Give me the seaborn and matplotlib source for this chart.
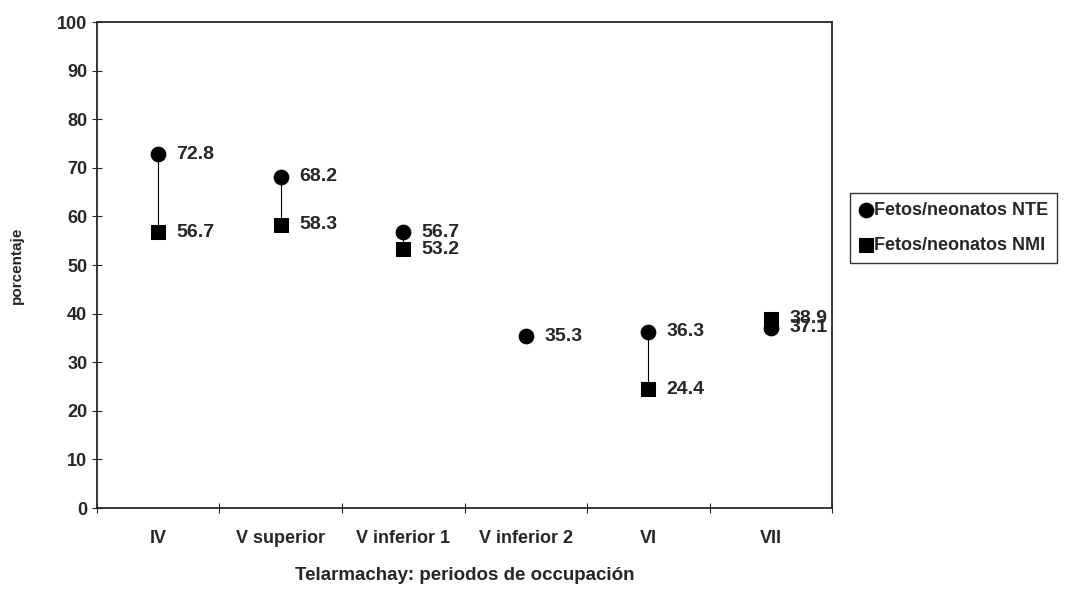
import numpy as np
import pandas as pd
import matplotlib
matplotlib.use("Agg")
import matplotlib.pyplot as plt
import seaborn as sns

# valores
periodos = ["IV", "V superior", "V inferior 1", "V inferior 2", "VI", "VII"]
nte = [72.8, 68.2, 56.7, 35.3, 36.3, 37.1]
nmi = [56.7, 58.3, 53.2, np.nan, 24.4, 38.9]

sns.set_style("ticks")
plt.rcParams['font.family'] = ['Liberation Sans', 'DejaVu Sans']
plt.rcParams['font.weight'] = 'bold'

df = pd.DataFrame({"periodo": periodos, "NTE": nte, "NMI": nmi})
df["x"] = np.arange(len(periodos)) + 0.5

fig = plt.figure(figsize=(10.8, 5.89), dpi=100)
ax = fig.add_axes([0.0898, 0.1375, 0.6806, 0.8251])

# lineas alto-bajo entre las dos series
for _, r in df.dropna().iterrows():
    ax.plot([r["x"], r["x"]], [r["NTE"], r["NMI"]], color="black", lw=0.8, zorder=1)

sns.scatterplot(data=df, x="x", y="NTE", marker="o", s=110, color="black",
                edgecolor="black", ax=ax, label="Fetos/neonatos NTE", zorder=3)
sns.scatterplot(data=df.dropna(), x="x", y="NMI", marker="s", s=90, color="black",
                edgecolor="black", ax=ax, label="Fetos/neonatos NMI", zorder=3)

for _, r in df.iterrows():
    ax.text(r["x"] + 0.15, r["NTE"], f"{r['NTE']:.1f}", va="center", ha="left",
            fontsize=14, fontweight="bold")
    if not np.isnan(r["NMI"]):
        ax.text(r["x"] + 0.15, r["NMI"], f"{r['NMI']:.1f}", va="center", ha="left",
                fontsize=14, fontweight="bold")

ax.set_xlim(0, len(periodos))
ax.set_ylim(0, 100)
ax.set_yticks(range(0, 101, 10))
ax.set_xticks(range(0, len(periodos) + 1))
ax.set_xticklabels([])
ax.set_xticks(df["x"], minor=True)
ax.set_xticklabels(periodos, minor=True)
ax.tick_params(axis="x", which="minor", length=0, pad=16, labelsize=13)
ax.tick_params(axis="x", which="major", length=7, direction="inout")
ax.tick_params(axis="y", length=7, direction="inout", labelsize=13)
for lab in ax.get_yticklabels() + ax.get_xticklabels(minor=True):
    lab.set_fontweight("bold")
for s in ax.spines.values():
    s.set_linewidth(1.3)

ax.set_xlabel("Telarmachay: periodos de occupación", fontsize=13.5, fontweight="bold",
              labelpad=14)
ax.set_ylabel("porcentaje", fontsize=11, fontweight="bold", labelpad=24)

leg = ax.legend(loc="upper left", bbox_to_anchor=(1.025, 0.648), frameon=True,
                fancybox=False, edgecolor="black", fontsize=13, handletextpad=0.1,
                borderpad=0.5, handlelength=0.7, borderaxespad=0, labelspacing=1.0)
leg.get_frame().set_linewidth(1.0)
for t in leg.get_texts():
    t.set_fontweight("bold")

fig.savefig("out.png", dpi=100)
